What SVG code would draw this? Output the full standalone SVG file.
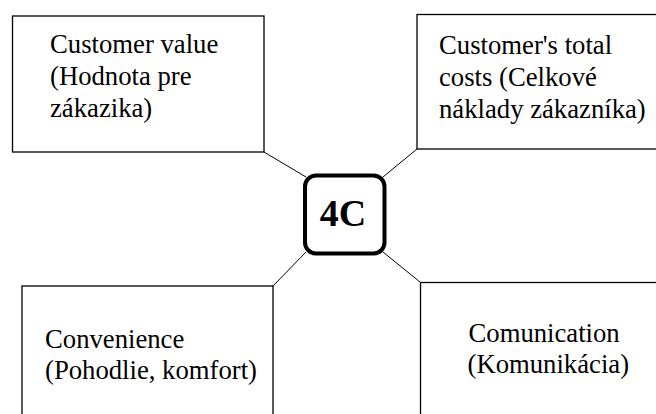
<svg xmlns="http://www.w3.org/2000/svg" width="656" height="414" viewBox="0 0 656 414">
<style>
.box{fill:#fff;stroke:#000;stroke-width:1.3}
.lbl{font-family:"Liberation Serif",serif;font-size:26.7px;fill:#000}
.hub{fill:#fff;stroke:#000;stroke-width:4}
.hubt{font-family:"Liberation Serif",serif;font-size:38px;font-weight:bold;fill:#000}
.con{stroke:#000;stroke-width:1;fill:none}
</style>
<rect width="656" height="414" fill="#fff"/>
<g id="connectors">
<line class="con" x1="264" y1="152" x2="306" y2="177"/>
<line class="con" x1="417" y1="149" x2="383" y2="177"/>
<line class="con" x1="273" y1="286" x2="306" y2="252"/>
<line class="con" x1="383" y1="252" x2="420" y2="282"/>
</g>
<g font-family="Liberation Serif">
<g id="node-value">
<rect class="box" x="12.5" y="16" width="251.5" height="136"/>
<text class="lbl" x="50" y="53">Customer value</text>
<text class="lbl" x="50" y="85">(Hodnota pre</text>
<text class="lbl" x="50" y="116.5">zákazika)</text>
</g>
<g id="node-costs">
<rect class="box" x="417" y="14.5" width="245" height="134.5"/>
<text class="lbl" x="439" y="54">Customer's total</text>
<text class="lbl" x="439" y="86">costs (Celkové</text>
<text class="lbl" x="439" y="118">náklady zákazníka)</text>
</g>
<g id="node-convenience">
<rect class="box" x="22" y="286" width="251" height="140"/>
<text class="lbl" x="45" y="347.5">Convenience</text>
<text class="lbl" x="45" y="379">(Pohodlie, komfort)</text>
</g>
<g id="node-communication">
<rect class="box" x="420.5" y="282.5" width="245" height="140"/>
<text class="lbl" x="468.5" y="341.5">Comunication</text>
<text class="lbl" x="467.5" y="372.5">(Komunikácia)</text>
</g>
<g id="node-4c">
<rect class="hub" x="305" y="175.5" width="79.5" height="78" rx="11"/>
<text class="hubt" x="343" y="226" text-anchor="middle">4C</text>
</g>
</g>
</svg>
